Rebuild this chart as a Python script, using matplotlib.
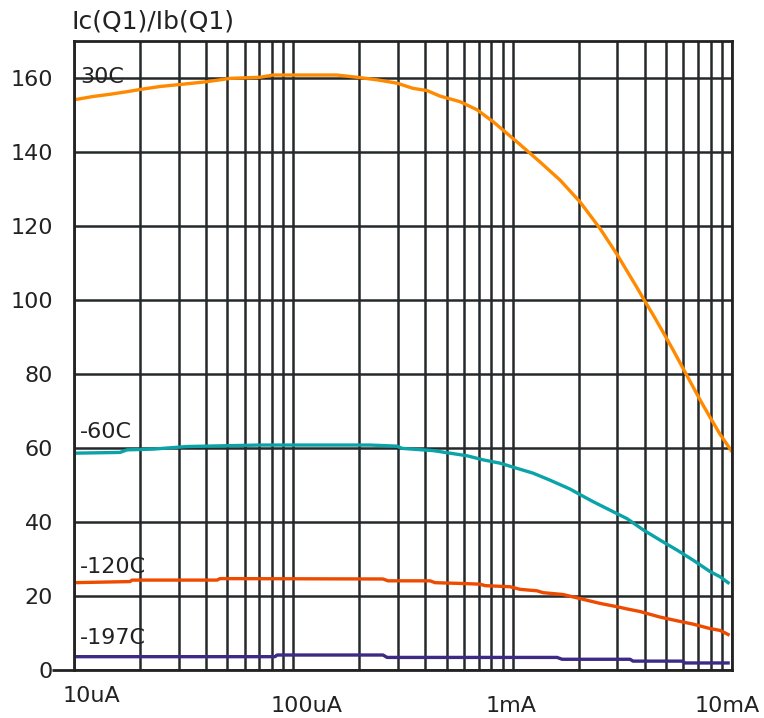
import matplotlib
matplotlib.use("Agg")
import matplotlib.pyplot as plt
import matplotlib.transforms as mtransforms
from matplotlib.ticker import LogLocator, NullFormatter

# ---- data (collector current in A, beta) ----
x_30 = [1.0e-5, 1.221e-5, 1.459e-5, 1.745e-5, 2.0e-5, 2.467e-5, 3.108e-5, 4.042e-5,
        5.145e-5, 7.05e-5, 8.08e-5, 1.582e-4, 2.015e-4, 2.408e-4, 2.971e-4, 3.514e-4,
        4.07e-4, 4.667e-4, 5.756e-4, 6.882e-4, 8.138e-4, 9.43e-4, 1.081e-3, 1.333e-3,
        1.645e-3, 2.029e-3, 2.503e-3, 2.993e-3, 3.324e-3, 3.693e-3, 3.932e-3, 4.367e-3,
        4.851e-3, 5.388e-3, 5.984e-3, 6.646e-3, 7.152e-3, 7.944e-3, 8.825e-3, 1.0e-2]
y_30 = [154.1, 155.0, 155.6, 156.3, 156.9, 157.7, 158.3, 159.0,
        159.9, 160.2, 160.8, 160.8, 160.1, 159.5, 158.6, 157.2,
        156.6, 155.1, 153.6, 151.4, 148.2, 145.0, 142.0, 137.3,
        132.4, 126.5, 119.3, 112.3, 107.8, 103.3, 100.5, 96.0,
        91.3, 86.5, 81.5, 76.5, 73.0, 68.3, 63.7, 59.0]

x_m60 = [1.0e-5, 1.621e-5, 1.745e-5, 2.292e-5, 3.276e-5, 7.05e-5, 2.238e-4, 2.971e-4,
         3.131e-4, 3.665e-4, 4.335e-4, 5.182e-4, 6.196e-4, 7.328e-4, 8.761e-4, 1.047e-3,
         1.239e-3, 1.481e-3, 1.645e-3, 1.827e-3, 2.029e-3, 2.326e-3, 2.780e-3, 3.324e-3,
         3.932e-3, 4.700e-3, 5.619e-3, 6.646e-3, 7.944e-3, 8.825e-3, 9.598e-3]
y_m60 = [58.6, 58.8, 59.5, 59.7, 60.4, 60.8, 60.8, 60.5,
         59.9, 59.6, 59.3, 58.6, 57.9, 56.8, 55.9, 54.5,
         53.2, 51.3, 50.1, 48.9, 47.4, 45.5, 43.2, 40.9,
         37.9, 35.1, 32.4, 29.7, 26.6, 25.2, 23.6]

x_m120 = [1.0e-5, 1.801e-5, 1.839e-5, 4.488e-5, 4.633e-5, 2.564e-4, 2.703e-4, 4.2e-4,
          4.428e-4, 5.756e-4, 7.1e-4, 7.485e-4, 9.73e-4, 1.081e-3, 1.292e-3, 1.376e-3,
          1.698e-3, 2.029e-3, 2.503e-3, 2.993e-3, 3.324e-3, 3.811e-3, 4.700e-3, 5.619e-3,
          6.646e-3, 7.944e-3, 8.825e-3, 9.598e-3]
y_m120 = [23.6, 23.9, 24.3, 24.3, 24.7, 24.6, 24.1, 24.1,
          23.6, 23.4, 23.2, 22.8, 22.5, 21.8, 21.4, 20.9,
          20.4, 19.3, 18.0, 17.1, 16.5, 15.8, 14.3, 13.3,
          12.4, 11.2, 10.7, 9.6]

x_m197 = [1.0e-5, 8.253e-5, 8.428e-5, 2.564e-4, 2.675e-4, 1.594e-3, 1.680e-3, 3.430e-3,
          3.540e-3, 5.921e-3, 6.113e-3, 9.598e-3]
y_m197 = [3.6, 3.6, 4.05, 4.05, 3.4, 3.4, 2.9, 2.9,
          2.4, 2.4, 1.9, 1.9]

series_labels = ["30C", "-60C", "-120C", "-197C"]
label_y = [160.3, 64.3, 27.8, 8.6]
label_x = 1.065e-5

x_ticks = [1e-5, 1e-4, 1e-3, 1e-2]
x_ticklabels = ["10uA", "100uA", "1mA", "10mA"]
y_ticks = [0, 20, 40, 60, 80, 100, 120, 140, 160]

colors = ["#ff8a00", "#0aa3a8", "#ee4a00", "#3d2a87"]
title = "Ic(Q1)/Ib(Q1)"

# ---- figure ----
plt.rcParams['font.family'] = ['DejaVu Sans']
fig = plt.figure(figsize=(7.64, 7.18), dpi=100)
ax = fig.add_axes([74/764, 1 - 670/718, (732-74)/764, (670-41)/718])

xs = [x_30, x_m60, x_m120, x_m197]
ys = [y_30, y_m60, y_m120, y_m197]
for xv, yv, c in zip(xs, ys, colors):
    ax.plot(xv, yv, color=c, lw=2.4, zorder=3, solid_joinstyle='round')

ax.set_xscale('log')
ax.set_xlim(1e-5, 1e-2)
ax.set_ylim(0, 170)

gcol = "#25292b"
ax.xaxis.set_major_locator(LogLocator(base=10, numticks=10))
ax.xaxis.set_minor_locator(LogLocator(base=10, subs=range(2, 10), numticks=20))
ax.xaxis.set_minor_formatter(NullFormatter())
ax.grid(True, which='both', axis='x', color=gcol, lw=1.8)
ax.grid(True, which='major', axis='y', color=gcol, lw=1.8)
ax.set_axisbelow(True)

for s in ax.spines.values():
    s.set_color("#222222")
    s.set_linewidth(2.0)
    s.set_zorder(4)

ax.set_xticks(x_ticks)
ax.set_xticklabels(x_ticklabels)
ax.set_yticks(y_ticks)
ax.tick_params(axis='both', which='both', length=0, labelsize=16, colors="#222222")
ax.tick_params(axis='x', pad=19)
ax.tick_params(axis='y', pad=15)

# tick mark only at 0
t0 = ax.yaxis.get_major_ticks()[0]
t0.tick1line.set_markersize(16)
t0.tick1line.set_markeredgewidth(2.0)
t0.tick1line.set_color("#222222")

# individual x label offsets
offs = [(17, 10), (13, 0), (-2, 0), (-5, 0)]
for lab, (dx, dy) in zip(ax.get_xticklabels(), offs):
    lab.set_transform(lab.get_transform() +
                      mtransforms.ScaledTranslation(dx/100, dy/100, fig.dpi_scale_trans))

for txt, ly in zip(series_labels, label_y):
    ax.text(label_x, ly, txt, fontsize=16, color="#222222", ha='left', va='center', zorder=5)

fig.text(72/764, 1 - 22/718, title, fontsize=18, color="#222222", ha='left', va='center')

fig.savefig("out.png", dpi=100)
